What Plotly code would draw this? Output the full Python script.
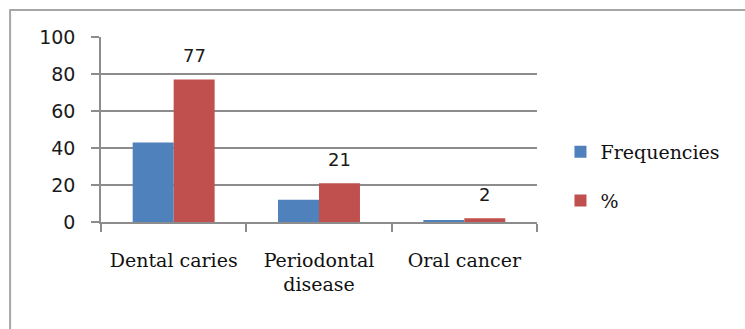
import plotly.graph_objects as go

# Data
categories = ["Dental caries", "Periodontal disease", "Oral cancer"]
category_labels = ["Dental caries", "Periodontal<br>disease", "Oral cancer"]
frequencies = [43, 12, 1]
percentages = [77, 21, 2]

W, H = 745, 329
L, R, T, B = 101, 537.5, 37.3, 221.7  # plot area in pixels

BLUE = "#4F81BD"
RED = "#C0504D"
GRID = "#8C8C8C"

def px_x(p):
    return (p - L) / (R - L)

def px_y(p):
    return (B - p) / (B - T)

fig = go.Figure()
fig.add_trace(go.Bar(x=categories, y=frequencies, name="Frequencies",
                     marker=dict(color=BLUE, line=dict(width=0)),
                     legendgroup="f"))
fig.add_trace(go.Bar(x=categories, y=percentages, name="%",
                     marker=dict(color=RED, line=dict(width=0)),
                     legendgroup="p"))

# value labels above the percentage bars
cat_w = (R - L) / len(categories)
bargap = 0.436
bar_w = cat_w * (1 - bargap) / 2
for c, v in zip(categories, percentages):
    fig.add_annotation(x=c, y=v, text=str(v), showarrow=False,
                       xref="x", yref="y", xanchor="center", yanchor="middle",
                       xshift=bar_w / 2, yshift=24,
                       font=dict(family="DejaVu Sans", size=18, color="#1a1a1a"))

# outer frame (top and left edges)
fig.add_shape(type="path", xref="paper", yref="paper",
              path=f"M {px_x(10)},{px_y(340)} L {px_x(10)},{px_y(10.5)} L {px_x(760)},{px_y(10.5)}",
              line=dict(color="#A6A6A6", width=2))

fig.update_layout(
    width=W, height=H,
    margin=dict(l=L, r=W - R, t=T, b=H - B, pad=0),
    paper_bgcolor="white", plot_bgcolor="white",
    barmode="group", bargap=bargap, bargroupgap=0,
    showlegend=True,
    legend=dict(x=px_x(561), y=px_y(133), xanchor="left", yanchor="top",
                font=dict(family="DejaVu Serif", size=19, color="#111"),
                traceorder="grouped", tracegroupgap=21,
                bgcolor="rgba(0,0,0,0)", itemwidth=30),
    xaxis=dict(tickmode="array", tickvals=categories, ticktext=category_labels,
               tickson="boundaries", ticks="outside", ticklen=8,
               tickcolor=GRID, tickwidth=1.5,
               showline=True, linecolor=GRID, linewidth=1.5,
               showgrid=False, zeroline=False,
               ticklabelstandoff=20,
               tickfont=dict(family="DejaVu Serif", size=19, color="#111")),
    yaxis=dict(range=[0, 100], dtick=20, ticks="outside", ticklen=8,
               tickcolor=GRID, tickwidth=1.5,
               showline=True, linecolor=GRID, linewidth=1.5,
               showgrid=True, gridcolor=GRID, gridwidth=1.5,
               zeroline=False, ticklabelstandoff=12,
               tickfont=dict(family="DejaVu Sans", size=19, color="#1a1a1a")),
)

fig.write_html("out.html")
